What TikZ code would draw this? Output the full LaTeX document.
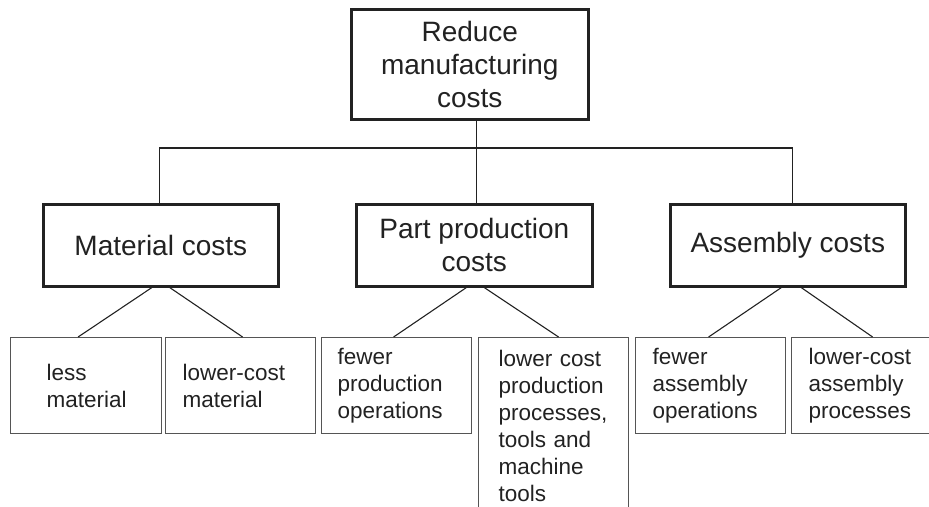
\documentclass[tikz,border=0pt]{standalone}
\usepackage{fontspec}
\setmainfont{Liberation Sans}
\definecolor{ink}{HTML}{222222}
\definecolor{thin}{HTML}{555555}
\begin{document}
\begin{tikzpicture}[x=1pt,y=-1pt,
  bigbox/.style={draw=ink,line width=2.6pt,anchor=north west,inner sep=0pt,align=center,
    text=ink,font=\fontsize{28}{33}\selectfont},
  smallbox/.style={draw=thin,line width=1.2pt,anchor=north west,inner ysep=0pt,align=left,
    text=ink,font=\fontsize{22.5}{27}\selectfont,minimum height=96pt},
  link/.style={draw=ink,line width=1.1pt}]
\useasboundingbox (0,0) rectangle (929,506);
\clip (0,0) rectangle (929,506);
\node[bigbox,minimum width=237pt,minimum height=110pt] (top) at (350,8) {\raisebox{-4pt}{\parbox{230pt}{\centering Reduce\\manufacturing\\costs}}};
\node[bigbox,minimum width=235pt,minimum height=82pt] (mat) at (42,203) {Material costs};
\node[bigbox,minimum width=236pt,minimum height=82pt] (part) at (355,203) {Part production\\costs};
\node[bigbox,minimum width=235pt,minimum height=82pt] (asm) at (669,203) {Assembly costs};
\node[smallbox,inner xsep=36pt,text width=79pt] (b1) at (10,337) {less\\material};
\node[smallbox,inner xsep=17pt,text width=116pt] (b2) at (165,337) {lower-cost\\material};
\node[smallbox,inner xsep=16pt,text width=118pt] (b3) at (321,337) {fewer\\production\\operations};
\node[smallbox,inner xsep=20pt,text width=110pt,minimum height=176pt] (b4) at (478,337) {lower cost\\production\\processes,\\tools and\\machine\\tools};
\node[smallbox,inner xsep=17pt,text width=116pt] (b5) at (635,337) {fewer\\assembly\\operations};
\node[smallbox,inner xsep=17pt,text width=116pt] (b6) at (791,337) {lower-cost\\assembly\\processes};
\coordinate (bus) at (0,148);
\draw[link] ([xshift=-1.5pt]mat.north) |- ([xshift=4.5pt]asm.north |- bus) -- ([xshift=4.5pt]asm.north);
\draw[link] ([xshift=6.5pt]top.south) -- ([xshift=2pt]part.north);
\draw[link] ([xshift=-9pt]mat.south) -- ([xshift=-8pt]b1.north);
\draw[link] ([xshift=9pt]mat.south) -- ([xshift=2pt]b2.north);
\draw[link] ([xshift=-8pt]part.south) -- ([xshift=-3pt]b3.north);
\draw[link] ([xshift=10pt]part.south) -- ([xshift=5pt]b4.north);
\draw[link] ([xshift=-6.5pt]asm.south) -- ([xshift=-2pt]b5.north);
\draw[link] ([xshift=13.5pt]asm.south) -- ([xshift=6pt]b6.north);
\end{tikzpicture}
\end{document}
